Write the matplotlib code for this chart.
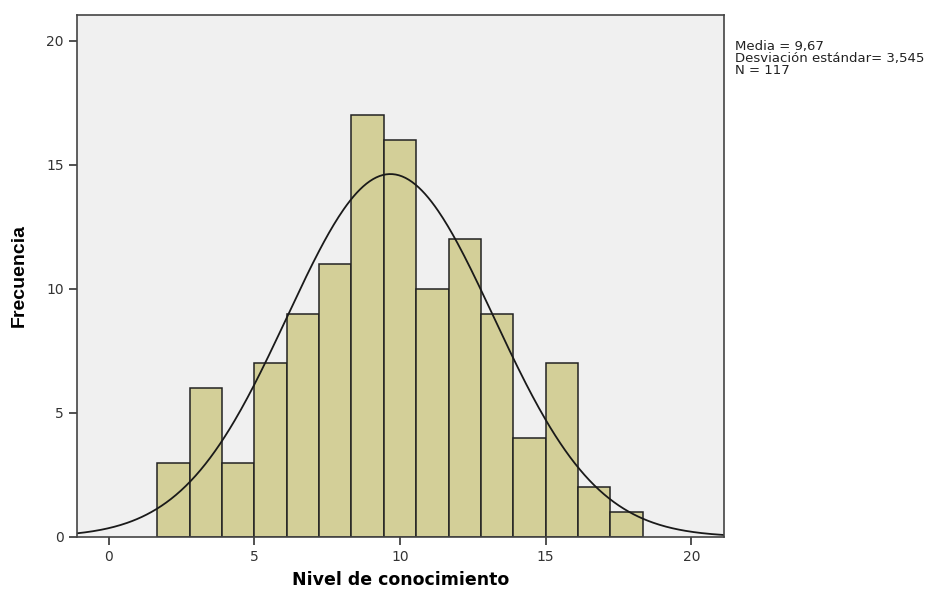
import numpy as np
import matplotlib.pyplot as plt

# histogram of knowledge level (SPSS style)
counts = [3, 6, 3, 7, 9, 11, 17, 16, 10, 12, 9, 4, 7, 2, 1]
bin_start = 5 / 3
bin_width = 10 / 9
media = 9.67
desv = 3.545
n = 117
x_ticks = [0, 5, 10, 15, 20]
y_ticks = [0, 5, 10, 15, 20]
info_lines = ['Media = 9,67', 'Desviación estándar= 3,545', 'N = 117']

plt.rcParams['font.family'] = ['DejaVu Sans']

fig = plt.figure(figsize=(9.5, 5.92), dpi=100)
ax = fig.add_axes([0.081, 0.093, 0.681, 0.882])
ax.set_facecolor('#f0f0f0')

edges = bin_start + bin_width * np.arange(len(counts) + 1)
ax.bar(edges[:-1], counts, width=bin_width, align='edge',
       color='#d3cf98', edgecolor='#222222', linewidth=1.1)

xs = np.linspace(-1.1, 21.2, 400)
ys = n * bin_width / (desv * np.sqrt(2 * np.pi)) * np.exp(-0.5 * ((xs - media) / desv) ** 2)
ax.plot(xs, ys, color='#1a1a1a', linewidth=1.3)

ax.set_xlim(-1.09, 21.12)
ax.set_ylim(0, 21.05)
ax.set_xticks(x_ticks)
ax.set_yticks(y_ticks)
ax.tick_params(direction='out', length=6, width=1.2, colors='#333333',
               labelsize=10, labelcolor='#333333')
for s in ax.spines.values():
    s.set_color('#444444')
    s.set_linewidth(1.2)

ax.set_xlabel('Nivel de conocimiento', fontsize=12.5, fontweight='bold', labelpad=5)
ax.set_ylabel('Frecuencia', fontsize=14, fontweight='bold', labelpad=13,
              family='Liberation Sans')

for i, line in enumerate(info_lines):
    fig.text(0.774, 0.922 - i * 0.0203, line, fontsize=9.5, va='center',
             ha='left', color='#222222')

fig.savefig('out.png', dpi=100, facecolor='white')
